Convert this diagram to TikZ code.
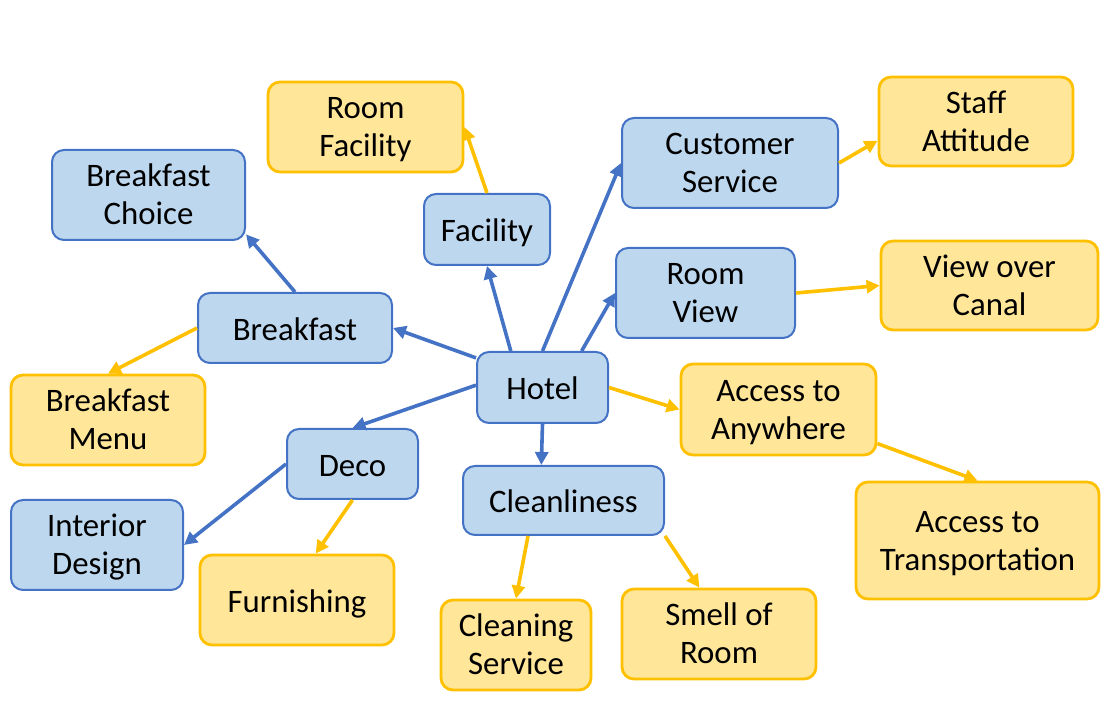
\documentclass[tikz,border=0pt]{standalone}
\usepackage{fontspec}
\setmainfont{Carlito}
\usetikzlibrary{arrows.meta}
\definecolor{bluefill}{HTML}{BDD7EE}
\definecolor{blueline}{HTML}{4472C4}
\definecolor{yellowfill}{HTML}{FFE699}
\definecolor{yellowline}{HTML}{FFC000}

\begin{document}
\begin{tikzpicture}
  [x=0.5pt,y=-0.5pt,
   every node/.style={rounded corners=6pt,inner sep=0pt,
     align=center,font=\fontsize{16.4}{19.2}\selectfont,
     text height=12.5pt,text depth=0pt},
   two/.style={text height=30pt,text depth=0pt},
   blu/.style={draw=blueline,fill=bluefill,line width=1pt},
   yel/.style={draw=yellowline,fill=yellowfill,line width=1.4pt},
   blink/.style={draw=blueline,line width=1.8pt,-{Triangle[length=6.5pt,width=6.5pt]}},
   ylink/.style={draw=yellowline,line width=1.8pt,-{Triangle[length=6.5pt,width=6.5pt]}}]
  \useasboundingbox (0,0) rectangle (1116,716);
  % blue topics
  \node[blu,minimum width=65.5pt,minimum height=35.5pt] (hotel) at (542.5,387.5) {Hotel};
  \node[blu,minimum width=97pt,minimum height=35pt] (breakfast) at (295,328) {Breakfast};
  \node[blu,two,minimum width=96.5pt,minimum height=45pt] (choice) at (148.5,195) {Breakfast\\Choice};
  \node[blu,minimum width=63pt,minimum height=35.5pt] (facility) at (487,229.5) {Facility};
  \node[blu,two,minimum width=108pt,minimum height=45pt] (service) at (730,163) {Customer\\Service};
  \node[blu,two,minimum width=89.5pt,minimum height=45pt] (view) at (705.5,293) {Room\\View};
  \node[blu,minimum width=65.5pt,minimum height=35pt] (deco) at (352.5,464) {Deco};
  \node[blu,two,minimum width=86pt,minimum height=45pt] (interior) at (97,545) {Interior\\Design};
  \node[blu,minimum width=100.5pt,minimum height=34.5pt] (clean) at (563.5,500.5) {Cleanliness};
  % yellow topics
  \node[yel,two,minimum width=97pt,minimum height=45pt] (menu) at (108,420) {Breakfast\\Menu};
  \node[yel,two,minimum width=97.5pt,minimum height=45pt] (roomfac) at (365.5,127) {Room\\Facility};
  \node[yel,two,minimum width=97pt,minimum height=44.5pt] (staff) at (976,121.5) {Staff\\Attitude};
  \node[yel,two,minimum width=108.5pt,minimum height=44.5pt] (canal) at (989.5,285.5) {View over\\Canal};
  \node[yel,two,minimum width=97.5pt,minimum height=45.5pt] (anywhere) at (778.5,409.5) {Access to\\Anywhere};
  \node[yel,two,minimum width=121.5pt,minimum height=58.5pt] (transport) at (977.5,540.5) {Access to\\Transportation};
  \node[yel,minimum width=97pt,minimum height=45pt] (furnish) at (297,600) {Furnishing};
  \node[yel,two,minimum width=75pt,minimum height=45pt] (cleanserv) at (516,645) {Cleaning\\Service};
  \node[yel,two,minimum width=97pt,minimum height=45pt] (smell) at (719,634) {Smell of\\Room};
  \foreach \from/\to in {hotel.156/breakfast.east,hotel.131/facility.south,
      hotel.north/service.west,hotel.43/view.west,hotel.178/deco.north,
      hotel.south/clean.122,breakfast.north/choice.338,deco.west/interior.east}
    \draw[blink] (\from) -- (\to);
  \foreach \from/\to in {hotel.east/anywhere.west,breakfast.west/menu.north,
      facility.north/roomfac.east,service.east/staff.191,view.east/canal.west,
      anywhere.341/transport.north,deco.south/furnish.68,clean.225/cleanserv.north,
      clean.south east/smell.113}
    \draw[ylink] (\from) -- (\to);
\end{tikzpicture}
\end{document}
